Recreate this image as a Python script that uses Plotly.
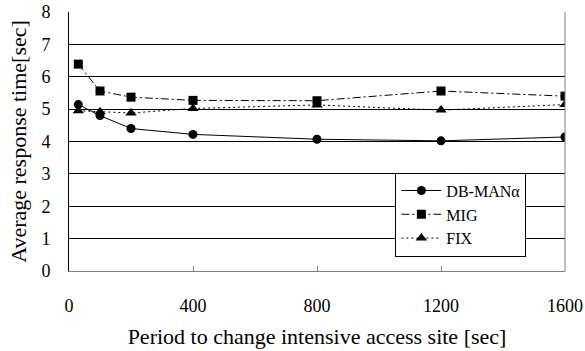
import plotly.graph_objects as go

periods = [30, 100, 200, 400, 800, 1200, 1600]
db_man = [5.14, 4.80, 4.40, 4.22, 4.07, 4.02, 4.14]
mig = [6.39, 5.56, 5.37, 5.27, 5.26, 5.56, 5.40]
fix = [4.95, 4.92, 4.88, 5.02, 5.13, 4.97, 5.14]

x_ticks = [0, 400, 800, 1200, 1600]
y_ticks = [0, 1, 2, 3, 4, 5, 6, 7, 8]

FONT = "Liberation Serif"

fig = go.Figure()
fig.add_trace(go.Scatter(x=periods, y=db_man, name="DB-MANα", mode="lines+markers",
                         line=dict(color="black", width=1, dash="solid"),
                         marker=dict(symbol="circle", size=9, color="black")))
fig.add_trace(go.Scatter(x=periods, y=mig, name="MIG", mode="lines+markers",
                         line=dict(color="black", width=1, dash="8px,3px,2px,3px"),
                         marker=dict(symbol="square", size=9, color="black")))
fig.add_trace(go.Scatter(x=periods, y=fix, name="FIX", mode="lines+markers",
                         line=dict(color="black", width=1, dash="2px,3px"),
                         marker=dict(symbol="triangle-up", size=10, color="black")))

fig.update_layout(
    width=585, height=351,
    margin=dict(l=69, r=20, t=12, b=80, autoexpand=False),
    plot_bgcolor="white", paper_bgcolor="white",
    font=dict(family=FONT, size=18, color="black"),
    showlegend=True,
    legend=dict(x=0.658, y=0.38, xanchor="left", yanchor="top",
                bgcolor="white", bordercolor="black", borderwidth=1,
                font=dict(family=FONT, size=16, color="black"),
                itemwidth=40, tracegroupgap=0),
    xaxis=dict(range=[0, 1600], tickvals=x_ticks, ticktext=[str(v) for v in x_ticks],
               showgrid=False, zeroline=False, showline=True, linecolor="#808080", linewidth=1,
               ticks="inside", ticklen=5, tickcolor="#808080", automargin=False,
               ticklabelstandoff=18, tickfont=dict(family=FONT, size=18),
               title=dict(text="Period to change intensive access site [sec]",
                          font=dict(family=FONT, size=22), standoff=14)),
    yaxis=dict(range=[0, 8], tickvals=y_ticks, ticktext=[str(v) for v in y_ticks],
               showgrid=True, gridcolor="#000000", gridwidth=1, zeroline=False,
               showline=True, linecolor="#000000", linewidth=1, ticks="", automargin=False,
               ticklabelstandoff=14, tickfont=dict(family=FONT, size=18),
               title=dict(text="Average response time[sec]",
                          font=dict(family=FONT, size=22), standoff=8)),
    shapes=[dict(type="line", xref="paper", yref="paper", x0=1, x1=1, y0=0, y1=1,
                 line=dict(color="#808080", width=1))],
)

fig.write_html("out.html")
